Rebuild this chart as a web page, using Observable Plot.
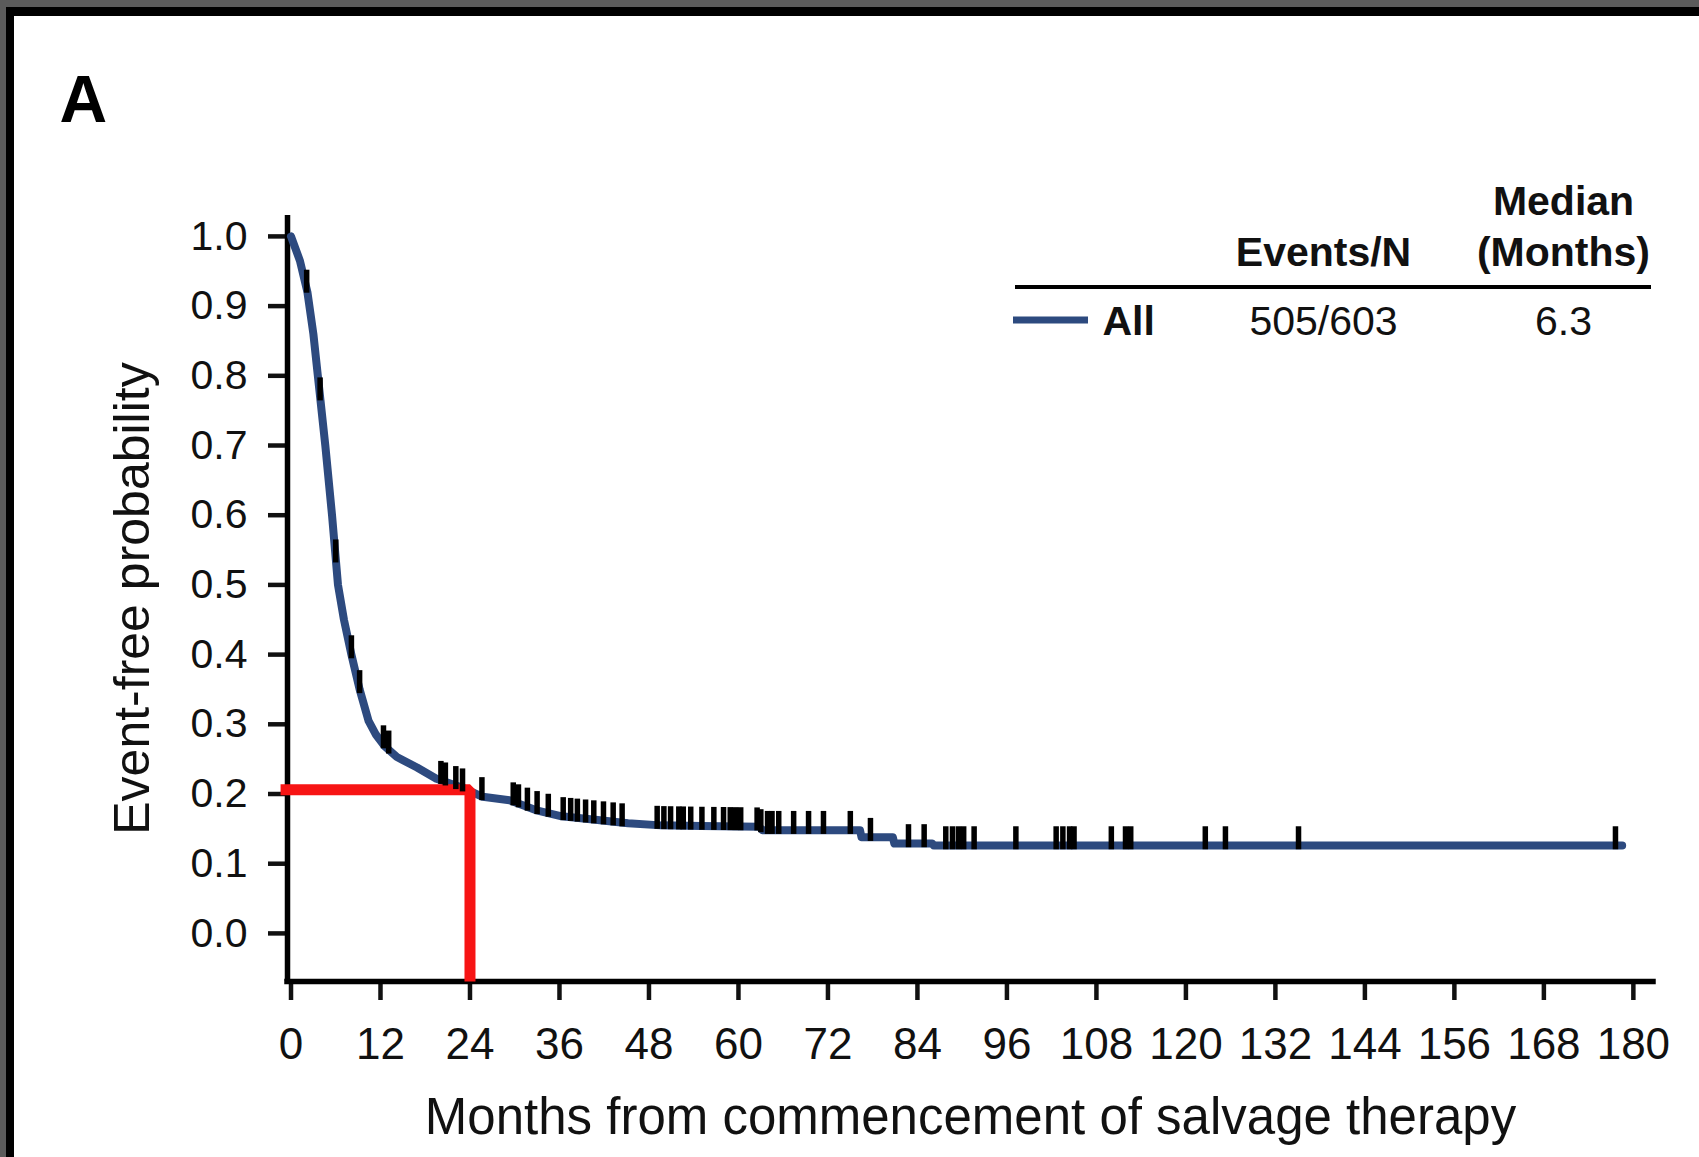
<!DOCTYPE html>
<html>
<head>
<meta charset="utf-8">
<script src="https://cdn.jsdelivr.net/npm/d3@7"></script>
<script src="https://cdn.jsdelivr.net/npm/@observablehq/plot@0.6"></script>
<style>
  html, body { margin: 0; padding: 0; background: #5b5b5b; width: 1699px; height: 1157px; overflow: hidden; }
  #panel { position: absolute; left: 6px; top: 7px; width: 1720px; height: 1180px; background: #fff;
           border-top: 9px solid #000; border-left: 8px solid #000; }
  #chart { position: absolute; left: 0; top: 0; }
  #chart svg { overflow: visible; }
</style>
</head>
<body>
<div id="panel"></div>
<div id="chart"></div>
<script>
// ---- data ----
const curveMonths = [0, 1.2, 2.2, 3.0, 3.6, 4.6, 5.5, 6.3, 7.1, 8.1, 9.2, 10.4, 11.4, 12.6, 14.2, 16.9, 19.5, 23.0, 25.7, 29.3, 32.8, 36.3, 40.8, 45.2, 49.6, 55.0, 62.8, 63.2, 76.3, 76.5, 80.7, 80.9, 86.0, 86.2, 178.5];
const curveProb   = [1.0, 0.965, 0.92, 0.86, 0.80, 0.70, 0.60, 0.50, 0.45, 0.40, 0.35, 0.305, 0.285, 0.268, 0.253, 0.238, 0.222, 0.209, 0.196, 0.191, 0.177, 0.168, 0.163, 0.158, 0.155, 0.154, 0.153, 0.148, 0.148, 0.138, 0.138, 0.129, 0.129, 0.126, 0.126];
const censorMonths = [2.1, 3.9, 6.0, 8.1, 9.2, 12.4, 13.1, 20.1, 20.7, 22.1, 23.0, 25.6, 29.8, 30.5, 31.7, 33.0, 34.5, 36.5, 37.5, 38.4, 39.5, 40.6, 41.9, 43.2, 44.4, 49.1, 50.0, 50.9, 52.0, 52.6, 53.6, 55.1, 56.7, 58.0, 58.9, 59.6, 60.3, 62.5, 63.0, 63.9, 64.5, 65.4, 67.4, 69.4, 71.4, 75.0, 77.7, 82.8, 84.9, 87.8, 88.7, 89.5, 90.2, 91.6, 97.2, 102.6, 103.5, 104.4, 105.0, 110.0, 111.9, 112.6, 122.6, 125.3, 135.1, 177.6];
const xTickValues = [0, 12, 24, 36, 48, 60, 72, 84, 96, 108, 120, 132, 144, 156, 168, 180];
const yTickValues = [0.0, 0.1, 0.2, 0.3, 0.4, 0.5, 0.6, 0.7, 0.8, 0.9, 1.0];
const xDomain = [-0.47, 182.7];
const yDomain = [-0.069, 1.03];
const redMonths = [-1.4, 24, 24];
const redProb = [0.206, 0.206, yDomain[0]];
const legendGroups = ["All"];
const legendEvents = ["505/603"];
const legendMedian = ["6.3"];
const legendHeaderEvents = "Events/N";
const legendHeaderMedian = ["Median", "(Months)"];
const panelLabel = "A";
const xTitle = "Months from commencement of salvage therapy";
const yTitle = "Event-free probability";

const curveColor = "#2d4a7f";
const redColor = "#f71414";
const font = "'Liberation Sans', Arial, Helvetica, sans-serif";

// ---- build tables ----
const curve = curveMonths.map((t, i) => ({t, s: curveProb[i]}));
function survivalAt(t) {
  const i = d3.bisectRight(curveMonths, t);
  if (i <= 0) return curveProb[0];
  if (i >= curveMonths.length) return curveProb[curveProb.length - 1];
  const t0 = curveMonths[i - 1], t1 = curveMonths[i];
  const f = (t - t0) / (t1 - t0);
  return curveProb[i - 1] + f * (curveProb[i] - curveProb[i - 1]);
}
const censors = censorMonths.map(t => ({t, s: survivalAt(t)}));
const red = redMonths.map((t, i) => ({t, s: redProb[i]}));

// legend lines (layout only)
const legendLines = () => {
  const g = d3.create("svg:g");
  g.append("line").attr("x1", 1015).attr("x2", 1651).attr("y1", 287).attr("y2", 287)
    .attr("stroke", "#000").attr("stroke-width", 4);
  g.append("line").attr("x1", 1013).attr("x2", 1088).attr("y1", 320).attr("y2", 320)
    .attr("stroke", curveColor).attr("stroke-width", 7);
  return g.node();
};

const chart = Plot.plot({
  width: 1699,
  height: 1157,
  marginLeft: 287,
  marginRight: 46,
  marginTop: 215,
  marginBottom: 176,
  x: {domain: xDomain},
  y: {domain: yDomain},
  style: {background: "transparent", fontFamily: font, color: "#111", overflow: "visible"},
  marks: [
    Plot.axisY({ticks: yTickValues, tickFormat: d3.format(".1f"), tickSize: 19, tickPadding: 21,
                fontSize: 41, strokeWidth: 4.5, label: null, anchor: "left"}),
    Plot.axisX({ticks: xTickValues, tickFormat: d => String(d), tickSize: 19, tickPadding: 27,
                fontSize: 44, strokeWidth: 4.5, label: null, anchor: "bottom"}),
    Plot.ruleX([xDomain[0]], {stroke: "#000", strokeWidth: 5.5}),
    Plot.ruleY([yDomain[0]], {stroke: "#000", strokeWidth: 5.5, strokeLinecap: "square"}),
    Plot.line(curve, {x: "t", y: "s", stroke: curveColor, strokeWidth: 8, strokeLinejoin: "round"}),
    Plot.line(red, {x: "t", y: "s", stroke: redColor, strokeWidth: 11, strokeLinejoin: "miter", strokeLinecap: "butt"}),
    Plot.ruleX(censors, {x: "t", y1: d => d.s - 0.006, y2: d => d.s + 0.027, stroke: "#000", strokeWidth: 5.5}),
    // titles
    Plot.text([yTitle], {text: d => d, frameAnchor: "left", dx: -155, rotate: -90, textAnchor: "middle",
                         fontSize: 50, fill: "#111"}),
    Plot.text([xTitle], {text: d => d, frameAnchor: "bottom", dy: 152, lineAnchor: "bottom", fontSize: 51, fill: "#111"}),
    Plot.text([panelLabel], {text: d => d, frameAnchor: "top-left", dx: -228, dy: -94, lineAnchor: "bottom",
                             textAnchor: "start", fontSize: 66, fontWeight: "bold", fill: "#000"}),
    // legend table
    legendLines,
    Plot.text([legendHeaderMedian[0]], {text: d => d, frameAnchor: "top-left", dx: 1276, dy: -1, lineAnchor: "bottom",
                             textAnchor: "middle", fontSize: 41, fontWeight: "bold", fill: "#111"}),
    Plot.text([legendHeaderMedian[1]], {text: d => d, frameAnchor: "top-left", dx: 1276, dy: 50, lineAnchor: "bottom",
                             textAnchor: "middle", fontSize: 41, fontWeight: "bold", fill: "#111"}),
    Plot.text([legendHeaderEvents], {text: d => d, frameAnchor: "top-left", dx: 1036, dy: 50, lineAnchor: "bottom",
                             textAnchor: "middle", fontSize: 41, fontWeight: "bold", fill: "#111"}),
    Plot.text(legendGroups, {text: d => d, frameAnchor: "top-left", dx: 815, dy: 119, lineAnchor: "bottom",
                             textAnchor: "start", fontSize: 41, fontWeight: "bold", fill: "#111"}),
    Plot.text(legendEvents, {text: d => d, frameAnchor: "top-left", dx: 1036, dy: 119, lineAnchor: "bottom",
                             textAnchor: "middle", fontSize: 41, fill: "#111"}),
    Plot.text(legendMedian, {text: d => d, frameAnchor: "top-left", dx: 1276, dy: 119, lineAnchor: "bottom",
                             textAnchor: "middle", fontSize: 41, fill: "#111"})
  ]
});
document.getElementById("chart").append(chart);
</script>
</body>
</html>
